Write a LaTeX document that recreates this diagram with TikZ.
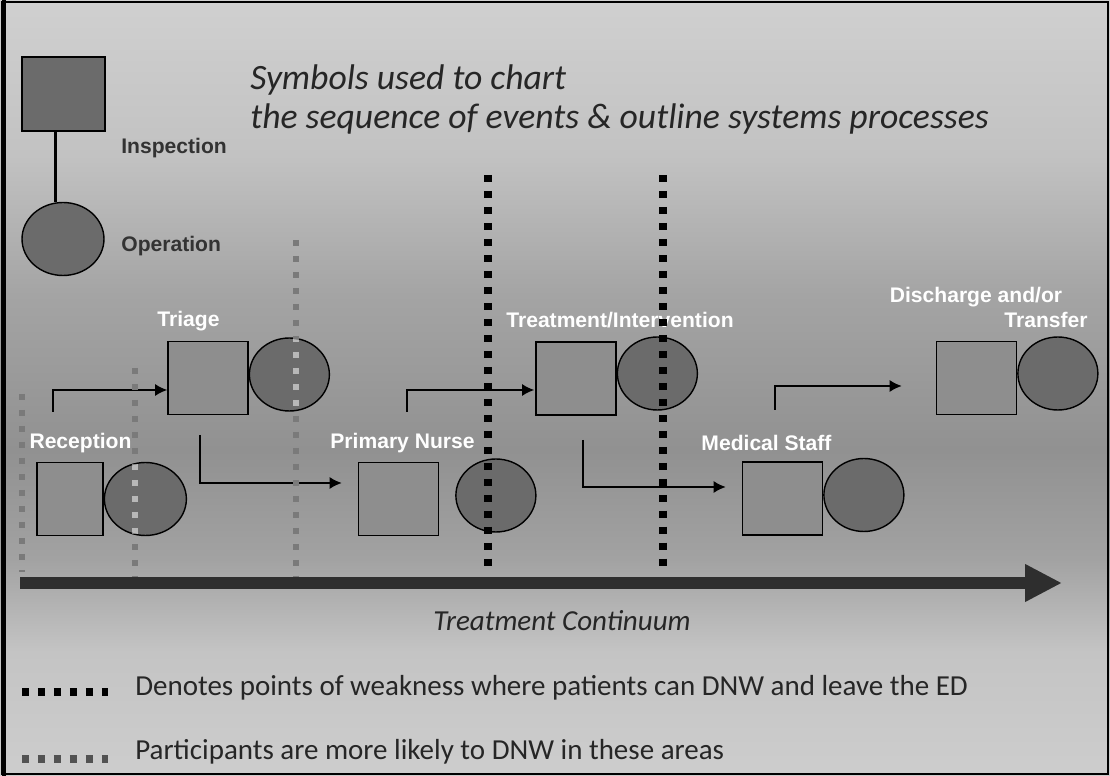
\documentclass[tikz,border=0pt]{standalone}
\usepackage{fontspec}
\setmainfont{Liberation Sans}
\newfontfamily\slidefont{Carlito}
\usetikzlibrary{shapes.geometric, arrows.meta, positioning}

\definecolor{sqgrey}{HTML}{8E8E8E}
\definecolor{opgrey}{HTML}{6B6B6B}
\definecolor{dnwgrey}{HTML}{7A7A7A}
\definecolor{dnwlight}{HTML}{B8B8B8}
\definecolor{bgtop}{HTML}{D0D0D0}
\definecolor{bgupper}{HTML}{C2C2C2}
\definecolor{bgmid}{HTML}{A4A4A4}
\definecolor{bgdark}{HTML}{919191}
\definecolor{bglow}{HTML}{A2A2A2}
\definecolor{bgkey}{HTML}{C4C4C4}
\definecolor{bgbottom}{HTML}{CDCDCD}
\pgfdeclareverticalshading{slidebg}{100bp}{color(0bp)=(bgbottom); color(25bp)=(bgbottom); color(33bp)=(bgkey); color(39bp)=(bglow); color(46bp)=(bgdark); color(56bp)=(bgmid); color(65bp)=(bgupper); color(75bp)=(bgtop); color(100bp)=(bgtop)}

\begin{document}
\begin{tikzpicture}[x=0.02cm, y=-0.02cm]
        \tikzstyle{inspect} = [rectangle, draw, line width=0.8pt, fill=sqgrey, minimum width=1.6cm, minimum height=1.46cm, inner sep=0pt]
        \tikzstyle{operation} = [ellipse, draw, line width=0.8pt, fill=opgrey, minimum width=1.6cm, minimum height=1.46cm, inner sep=0pt]
        \tikzstyle{stage} = [text=white, inner sep=0pt, font=\bfseries\fontsize{12}{14}\selectfont]
        \tikzstyle{symlabel} = [text=black!80, anchor=west, inner sep=0pt, font=\bfseries\fontsize{12}{14}\selectfont]
        \tikzstyle{arrow} = [line width=1.1pt, -{Latex[length=7pt, width=7pt]}]
        \tikzstyle{weak} = [line width=4pt, dash pattern=on 4pt off 5.1pt]
        \tikzstyle{likely} = [line width=3.4pt, dash pattern=on 3.4pt off 5.7pt, draw=dnwgrey]
        \tikzstyle{timeline} = [line width=6.4pt, draw=black!82, -{Triangle[length=21pt, width=20pt]}]
        \tikzstyle{keytext} = [anchor=west, inner sep=0pt, text=black!85, font=\slidefont\fontsize{16.5}{19}\selectfont]

        \useasboundingbox (0,0) rectangle (1110,776);
        \shade[shading=slidebg] (0,0) rectangle (1110,776);
        \draw[line width=1.1pt] (2,2) rectangle (1108,774);
        \draw[line width=2.6pt] (4,0) -- (4,776);

        % legend of symbols
        \node (title) [anchor=north west, align=left, inner sep=0pt, text=black!85, font=\slidefont\itshape\fontsize{20.3}{22.5}\selectfont] at (250,64) {Symbols used to chart\\the sequence of events \& outline systems processes};
        \node (legsq) [inspect, fill=opgrey, minimum width=1.66cm, minimum height=1.48cm] at (63.5,94) {};
        \node (legop) [operation, minimum width=1.64cm] at (63,239) {};
        \draw[line width=1.4pt] ([xshift=-0.16cm]legsq.south) -- ([xshift=-0.16cm]legsq.south |- legop.north);
        \node (insplabel) [symlabel] at (121,148) {Inspection};
        \node (oplabel) [symlabel] at (121,246) {Operation};

        % stages of the continuum
        \node (recsq) [inspect, minimum width=1.32cm] at (70,499) {};
        \node (recop) [operation, right=0pt of recsq, minimum width=1.64cm] {};
        \node (reclabel) [stage] at (80.5,443) {Reception};

        \node (triagesq) [inspect] at (208,378) {};
        \node (triageop) [operation, right=0pt of triagesq, yshift=0.07cm] {};
        \node (triagelabel) [stage] at (188.5,321) {Triage};

        \node (nursesq) [inspect] at (398.5,499) {};
        \node (nurseop) [operation, right=0.32cm of nursesq, yshift=0.07cm] {};
        \node (nurselabel) [stage] at (402.5,443) {Primary Nurse};

        \node (treatsq) [inspect] at (576,378.5) {};
        \node (treatop) [operation, right=0pt of treatsq, yshift=0.1cm] {};
        \node (treatlabel) [stage] at (620,320) {Treatment/Intervention};

        \node (medsq) [inspect] at (782.5,498.5) {};
        \node (medop) [operation, right=0pt of medsq, yshift=0.07cm] {};
        \node (medlabel) [stage] at (766.5,443) {Medical Staff};

        \node (dischsq) [inspect] at (976.5,378) {};
        \node (dischop) [operation, right=0pt of dischsq, yshift=0.09cm] {};
        \node (dischlabel) [stage] at (976,297) {Discharge and/or};
        \node (translabel) [stage] at (1046,320) {Transfer};

        % flow between stages
        \coordinate (fromreception) at (53,412);
        \coordinate (fromtriage) at (200,435);
        \coordinate (fromnurse) at (407,412);
        \coordinate (fromtreatment) at (583,440);
        \coordinate (frommedical) at (775,410);
        \draw [arrow] (fromreception) |- ([yshift=-0.24cm]triagesq.west);
        \draw [arrow] (fromtriage) |- ([xshift=-0.32cm, yshift=0.32cm]nursesq.west);
        \draw [arrow] (fromnurse) |- ([xshift=-0.02cm, yshift=-0.23cm]treatsq.west);
        \draw [arrow] (fromtreatment) |- ([xshift=-0.32cm, yshift=0.23cm]medsq.west);
        \draw [arrow] (frommedical) |- ([xshift=-0.68cm, yshift=-0.16cm]dischsq.west);

        % areas where DNW is more likely
        \draw[likely] (22,394) -- (22,572);
        \draw[likely] (135,368) -- (135,577);
        \draw[likely] (296,240) -- (296,577);
        \begin{scope}
            \clip (recop.center) ellipse [x radius=40, y radius=35.5];
            \draw[likely, draw=dnwlight] (135,368) -- (135,577);
        \end{scope}
        \begin{scope}
            \clip (triageop.center) ellipse [x radius=39, y radius=35.5];
            \draw[likely, draw=dnwlight] (296,240) -- (296,577);
        \end{scope}

        % points of weakness
        \draw[weak] (488,175) -- (488,572);
        \draw[weak] (663,175) -- (663,572);

        \coordinate (tlstart) at (20,583);
        \coordinate (tlend) at (1062,583);
        \draw[timeline] (tlstart) -- (tlend);
        \node (continuum) [text=black!85, font=\slidefont\itshape\fontsize{16.5}{19}\selectfont] at (562,621) {Treatment Continuum};

        % key
        \draw[weak] (22,692) -- (108,692);
        \draw[weak, black!68] (22,759) -- (108,759);
        \node (weaktext) [keytext] at (135,688) {Denotes points of weakness where patients can DNW and leave the ED};
        \node (likelytext) [keytext] at (135,752) {Participants are more likely to DNW in these areas};
    \end{tikzpicture}
\end{document}
